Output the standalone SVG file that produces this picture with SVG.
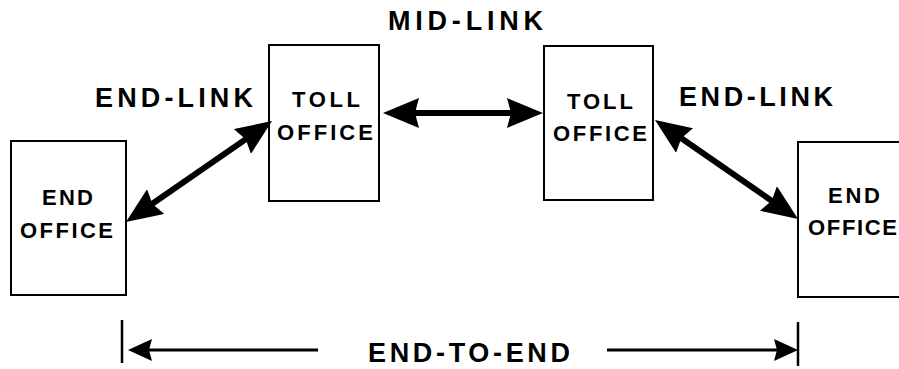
<svg xmlns="http://www.w3.org/2000/svg" width="899" height="369" viewBox="0 0 899 369">
<style>
.box{fill:#fff;stroke:#000;stroke-width:2}
.bt{font-family:"Liberation Sans",Arial,sans-serif;font-weight:bold;font-size:22px;fill:#000}
.lbl{font-family:"Liberation Sans",Arial,sans-serif;font-weight:bold;font-size:27px;fill:#000}
.thick{stroke:#000;stroke-width:6;fill:none}
.thin{stroke:#000;stroke-width:3;fill:none}
.tick{stroke:#000;stroke-width:2.5}
</style>
<defs>
<marker id="big" viewBox="0 0 36 30" refX="26" refY="15" markerWidth="36" markerHeight="30" markerUnits="userSpaceOnUse" orient="auto-start-reverse">
<path d="M0,0 L36,15 L0,30 L4,15 z" fill="#000"/>
</marker>
<marker id="small" viewBox="0 0 24 22" refX="19" refY="11" markerWidth="24" markerHeight="22" markerUnits="userSpaceOnUse" orient="auto-start-reverse">
<path d="M0,0 L24,11 L0,22 L3,11 z" fill="#000"/>
</marker>
</defs>
<rect width="899" height="369" fill="#fff"/>
<g id="end-office-left">
<rect class="box" x="11" y="141" width="115" height="154"/>
<text class="bt" x="42" y="205" textLength="51" lengthAdjust="spacing">END</text>
<text class="bt" x="20" y="238" textLength="93" lengthAdjust="spacing">OFFICE</text>
</g>
<g id="toll-office-left">
<rect class="box" x="269" y="45" width="110" height="156"/>
<text class="bt" x="292" y="107" textLength="68" lengthAdjust="spacing">TOLL</text>
<text class="bt" x="277" y="140" textLength="96" lengthAdjust="spacing">OFFICE</text>
</g>
<g id="toll-office-right">
<rect class="box" x="544" y="46" width="109" height="154"/>
<text class="bt" x="567" y="109" textLength="66" lengthAdjust="spacing">TOLL</text>
<text class="bt" x="553" y="141" textLength="94" lengthAdjust="spacing">OFFICE</text>
</g>
<g id="end-office-right">
<rect class="box" x="798" y="142" width="115" height="155"/>
<text class="bt" x="828" y="203" textLength="52" lengthAdjust="spacing">END</text>
<text class="bt" x="808" y="235" textLength="89" lengthAdjust="spacing">OFFICE</text>
</g>
<g id="connectors">
<line class="thick" x1="134.2" y1="216.3" x2="263.8" y2="126.7" marker-start="url(#big)" marker-end="url(#big)"/>
<line class="thick" x1="393" y1="113" x2="533" y2="113" marker-start="url(#big)" marker-end="url(#big)"/>
<line class="thick" x1="663.2" y1="125.7" x2="789.8" y2="213.3" marker-start="url(#big)" marker-end="url(#big)"/>
<line class="tick" x1="122" y1="320" x2="122" y2="363"/>
<line class="tick" x1="798" y1="322" x2="798" y2="366"/>
<line class="thin" x1="133" y1="350" x2="318" y2="350" marker-start="url(#small)"/>
<line class="thin" x1="607" y1="350" x2="793" y2="350" marker-end="url(#small)"/>
</g>
<g id="labels">
<text class="lbl" x="95" y="107" textLength="158" lengthAdjust="spacing">END-LINK</text>
<text class="lbl" x="388" y="30" textLength="155" lengthAdjust="spacing">MID-LINK</text>
<text class="lbl" x="679" y="106" textLength="154" lengthAdjust="spacing">END-LINK</text>
<text class="lbl" x="368" y="362" textLength="202" lengthAdjust="spacing">END-TO-END</text>
</g>
</svg>
